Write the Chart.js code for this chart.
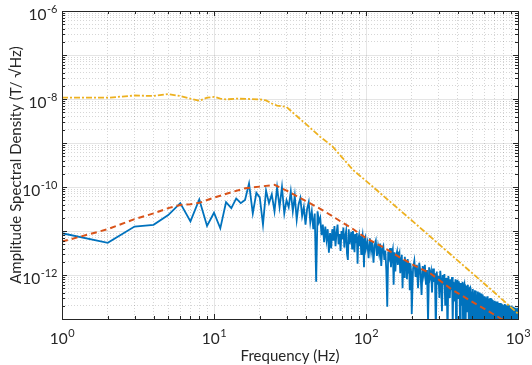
<!DOCTYPE html>
<html>
<head>
<meta charset="utf-8">
<script src="https://cdn.jsdelivr.net/npm/chart.js@4"></script>
<style>
  html, body { margin: 0; padding: 0; background: #fff; }
  #wrap { width: 532px; height: 365px; }
</style>
</head>
<body>
<div id="wrap"><canvas id="myChart" width="532" height="365"></canvas></div>
<script>
// all amplitudes in pT/sqrt(Hz), converted to T/sqrt(Hz) for the axis
var PICO = 1e-12;

// measured spectrum (blue), three frequency segments with fixed spacing
var blueLowStart = 1, blueLowStep = 1;
var blueLow = [
  8.9, 5.4, 12.6, 13.8, 23, 43, 16.5, 52, 13, 26,
  11.5, 45, 33, 55, 43, 51, 120, 25, 74, 58,
  14, 83, 43, 68, 28, 98, 35, 100, 25, 50,
  35, 79, 28, 63, 18, 40, 56, 22, 35, 14,
  32, 45, 16, 28, 11, 25, 0.7, 28, 16, 20,
  8, 14, 5.6, 12.6, 6.3, 11, 3.2, 9, 4, 11,
  6, 13, 4.5, 9, 14, 5, 8.5, 3.5, 10, 6.5,
  12, 4.2, 7.5, 10, 3, 2.2, 11, 5, 6.8, 9.5,
  4, 10, 7, 3.3, 8.5, 5.5, 9, 1.8, 6.5, 8,
  4.5, 7.8, 3, 6.2, 8, 5, 1.5, 6.5, 7.2, 4
];
var blueMidStart = 102, blueMidStep = 2;
var blueMid = [
  5.5, 2.4, 6.8, 3.5, 5.9, 1.9, 4.8, 6.0, 2.7, 4.5,
  3.0, 5.2, 1.6, 4.0, 4.6, 2.2, 3.6, 1.3, 0.19, 3.4,
  2.6, 4.1, 1.5, 3.0, 3.8, 0.6, 3.3, 1.2, 2.8, 3.4,
  1.7, 2.6, 3.1, 1.1, 2.4, 2.9, 0.5, 2.2, 0.9, 2.6,
  1.6, 2.1, 0.8, 2.3, 1.5, 1.9, 0.45, 1.8, 1.2, 0.13
];
var blueHighStart = 204, blueHighStep = 4;
var blueHigh = [
  1.4, 2.1, 0.9, 1.7, 0.5, 1.9, 1.2, 0.35, 1.6, 1.0,
  1.7, 0.6, 1.3, 0.08, 1.5, 0.9, 1.2, 0.4, 1.4, 0.7,
  1.1, 0.05, 1.2, 0.6, 0.95, 0.3, 1.25, 0.75, 0.15, 1.0,
  0.6, 1.05, 0.2, 0.85, 0.5, 0.04, 0.95, 0.65, 0.3, 0.8,
  0.45, 0.9, 0.07, 0.7, 0.55, 0.25, 0.8, 0.04, 0.6, 0.78,
  0.3, 0.72, 0.5, 0.06, 0.66, 0.4, 0.2, 0.7, 0.03, 0.55,
  0.62, 0.35, 0.05, 0.58, 0.45, 0.15, 0.6, 0.28, 0.04, 0.5,
  0.52, 0.1, 0.42, 0.3, 0.03, 0.48, 0.22, 0.4, 0.06, 0.45,
  0.25, 0.44, 0.04, 0.36, 0.18, 0.42, 0.08, 0.3, 0.4, 0.03,
  0.34, 0.2, 0.38, 0.05, 0.3, 0.14, 0.36, 0.02, 0.26, 0.33,
  0.1, 0.31, 0.22, 0.04, 0.3, 0.16, 0.33, 0.06, 0.24, 0.29,
  0.03, 0.28, 0.19, 0.3, 0.08, 0.25, 0.12, 0.29, 0.04, 0.22,
  0.27, 0.1, 0.24, 0.02, 0.2, 0.26, 0.13, 0.05, 0.25, 0.18,
  0.07, 0.24, 0.15, 0.25, 0.04, 0.21, 0.11, 0.23, 0.03, 0.19,
  0.23, 0.09, 0.2, 0.14, 0.02, 0.22, 0.16, 0.06, 0.21, 0.12,
  0.04, 0.2, 0.13, 0.22, 0.08, 0.18, 0.03, 0.21, 0.15, 0.1,
  0.2, 0.05, 0.17, 0.12, 0.21, 0.02, 0.19, 0.14, 0.07, 0.2,
  0.11, 0.19, 0.04, 0.16, 0.2, 0.09, 0.18, 0.03, 0.15, 0.19,
  0.06, 0.18, 0.13, 0.19, 0.04, 0.17, 0.1, 0.18, 0.02, 0.16,
  0.18, 0.08, 0.15, 0.12, 0.17, 0.03, 0.16, 0.11, 0.18, 0.14
];

// model curve (orange dashed)
var modelFreq = [1, 2, 3, 4, 5, 6, 7, 8, 10, 13, 16, 20, 25, 30, 35, 40, 50, 60, 70, 80,
  100, 130, 167, 210, 264, 366, 548, 781, 1000];
var modelAsd = [5.75, 11.0, 18.6, 25.1, 33.1, 38.9, 40.7, 43.7, 57.5, 75.9, 93.3, 102, 112, 83, 62, 48.6, 31.8, 21.9, 15.5, 11.8,
  6.9, 4.27, 2.51, 1.62, 1.10, 0.47, 0.204, 0.10, 0.06];

// upper curve (yellow dash-dot)
var upperFreq = [1, 2, 3, 4, 5, 6, 7, 8, 9, 10, 11, 12, 14, 17, 20, 22, 24, 26, 28, 30, 32, 35, 40, 50, 60, 70, 82,
  100, 150, 200, 300, 500, 700, 1000];
var upperAsd = [10700, 10700, 12000, 11700, 12900, 11700, 10200, 9100, 10700, 11200, 10200, 9800, 10200, 10000, 9800, 9300,
  7900, 7100, 6800, 6600, 5400, 4100, 2750, 1380, 850, 460, 245, 138, 41, 17.4, 5.1, 1.10, 0.40, 0.132];

var xTickValues = [1, 10, 100, 1000];
var xTickLabels = ['10^0', '10^1', '10^2', '10^3'];
var yTickValues = [1e-6, 1e-8, 1e-10, 1e-12];
var yTickLabels = ['10^-6', '10^-8', '10^-10', '10^-12'];

var xTitle = 'Frequency (Hz)';
var yTitle = 'Amplitude Spectral Density (T/ \u221AHz)';

function segPoints(start, step, vals) {
  var pts = [];
  for (var i = 0; i < vals.length; i++) {
    pts.push({x: start + i * step, y: vals[i] * PICO});
  }
  return pts;
}
function pairPoints(fs, vals) {
  return fs.map(function(f, i) { return {x: f, y: vals[i] * PICO}; });
}

var bluePts = segPoints(blueLowStart, blueLowStep, blueLow)
  .concat(segPoints(blueMidStart, blueMidStep, blueMid))
  .concat(segPoints(blueHighStart, blueHighStep, blueHigh));

// 1..9 x 10^n grid ticks for log axes
function decadeTicks(e0, e1) {
  var t = [];
  for (var e = e0; e <= e1; e++) {
    for (var m = 1; m <= 9; m++) {
      if (e === e1 && m > 1) break;
      t.push({value: m * Math.pow(10, e), major: m === 1});
    }
  }
  return t;
}

var TEXT = '#262626';
var FONT = 'Lato, "Open Sans", sans-serif';

function drawPow(ctx, label, x, y, align) {
  var parts = label.split('^');
  ctx.font = '15.5px ' + FONT;
  var bw = ctx.measureText(parts[0]).width;
  ctx.font = '11px ' + FONT;
  var ew = ctx.measureText(parts[1]).width;
  var x0 = align === 'right' ? x - bw - ew : x - (bw + ew) / 2;
  ctx.textAlign = 'left';
  ctx.textBaseline = 'alphabetic';
  ctx.font = '15.5px ' + FONT;
  ctx.fillText(parts[0], x0, y);
  ctx.font = '11px ' + FONT;
  ctx.fillText(parts[1], x0 + bw + 0.5, y - 7);
}

var matlabAxes = {
  id: 'matlabAxes',
  afterDatasetsDraw: function(chart) {
    var ctx = chart.ctx, a = chart.chartArea;
    var xs = chart.scales.x, ys = chart.scales.y;
    ctx.save();
    ctx.strokeStyle = TEXT;
    ctx.lineWidth = 1;
    ctx.beginPath();
    xs.ticks.forEach(function(t) {
      var px = Math.round(xs.getPixelForValue(t.value)) + 0.5;
      var len = t.major ? 5 : 3;
      ctx.moveTo(px, a.bottom); ctx.lineTo(px, a.bottom - len);
      ctx.moveTo(px, a.top); ctx.lineTo(px, a.top + len);
    });
    ys.ticks.forEach(function(t) {
      var py = Math.round(ys.getPixelForValue(t.value)) + 0.5;
      var len = t.major ? 5 : 3;
      ctx.moveTo(a.left, py); ctx.lineTo(a.left + len, py);
      ctx.moveTo(a.right, py); ctx.lineTo(a.right - len, py);
    });
    ctx.stroke();
    ctx.strokeRect(Math.round(a.left) + 0.5, Math.round(a.top) + 0.5,
      Math.round(a.right - a.left), Math.round(a.bottom - a.top));

    ctx.fillStyle = TEXT;
    xTickValues.forEach(function(v, i) {
      drawPow(ctx, xTickLabels[i], xs.getPixelForValue(v), a.bottom + 25, 'center');
    });
    yTickValues.forEach(function(v, i) {
      drawPow(ctx, yTickLabels[i], a.left - 5, ys.getPixelForValue(v) + 9, 'right');
    });

    ctx.font = '15px ' + FONT;
    ctx.textAlign = 'center';
    ctx.textBaseline = 'alphabetic';
    ctx.fillText(xTitle, (a.left + a.right) / 2, 361);
    ctx.translate(21, (a.top + a.bottom) / 2);
    ctx.rotate(-Math.PI / 2);
    ctx.fillText(yTitle, 0, 0);
    ctx.restore();
  }
};

function gridColor(c) { return c.tick && c.tick.major ? 'rgba(0,0,0,0.10)' : 'rgba(0,0,0,0.16)'; }
function gridDash(c) { return c.tick && !c.tick.major ? [1, 2] : []; }

var myChart = document.getElementById('myChart');
var asdChart = new Chart(myChart, {
  type: 'line',
  data: {
    datasets: [
      {data: bluePts, borderColor: '#0072BD', borderWidth: 1.8, pointRadius: 0, order: 3},
      {data: pairPoints(modelFreq, modelAsd), borderColor: '#D95319', borderWidth: 2,
        borderDash: [6, 4], pointRadius: 0, order: 1},
      {data: pairPoints(upperFreq, upperAsd), borderColor: '#EDB120', borderWidth: 1.8,
        borderDash: [6, 2, 2, 2], pointRadius: 0, order: 2}
    ]
  },
  options: {
    responsive: false,
    animation: false,
    events: [],
    layout: {padding: {left: 62, top: 11, right: 14, bottom: 46}},
    plugins: {legend: {display: false}, tooltip: {enabled: false}},
    scales: {
      x: {
        type: 'logarithmic', min: 1, max: 1000,
        afterBuildTicks: function(s) { s.ticks = decadeTicks(0, 3); },
        ticks: {display: false, autoSkip: false},
        grid: {color: gridColor, lineWidth: 1, drawTicks: false},
        border: {display: false, dash: gridDash}
      },
      y: {
        type: 'logarithmic', min: 1e-13, max: 1e-6,
        afterBuildTicks: function(s) { s.ticks = decadeTicks(-13, -6); },
        ticks: {display: false, autoSkip: false},
        grid: {color: gridColor, lineWidth: 1, drawTicks: false},
        border: {display: false, dash: gridDash}
      }
    }
  },
  plugins: [matlabAxes]
});
</script>
</body>
</html>
